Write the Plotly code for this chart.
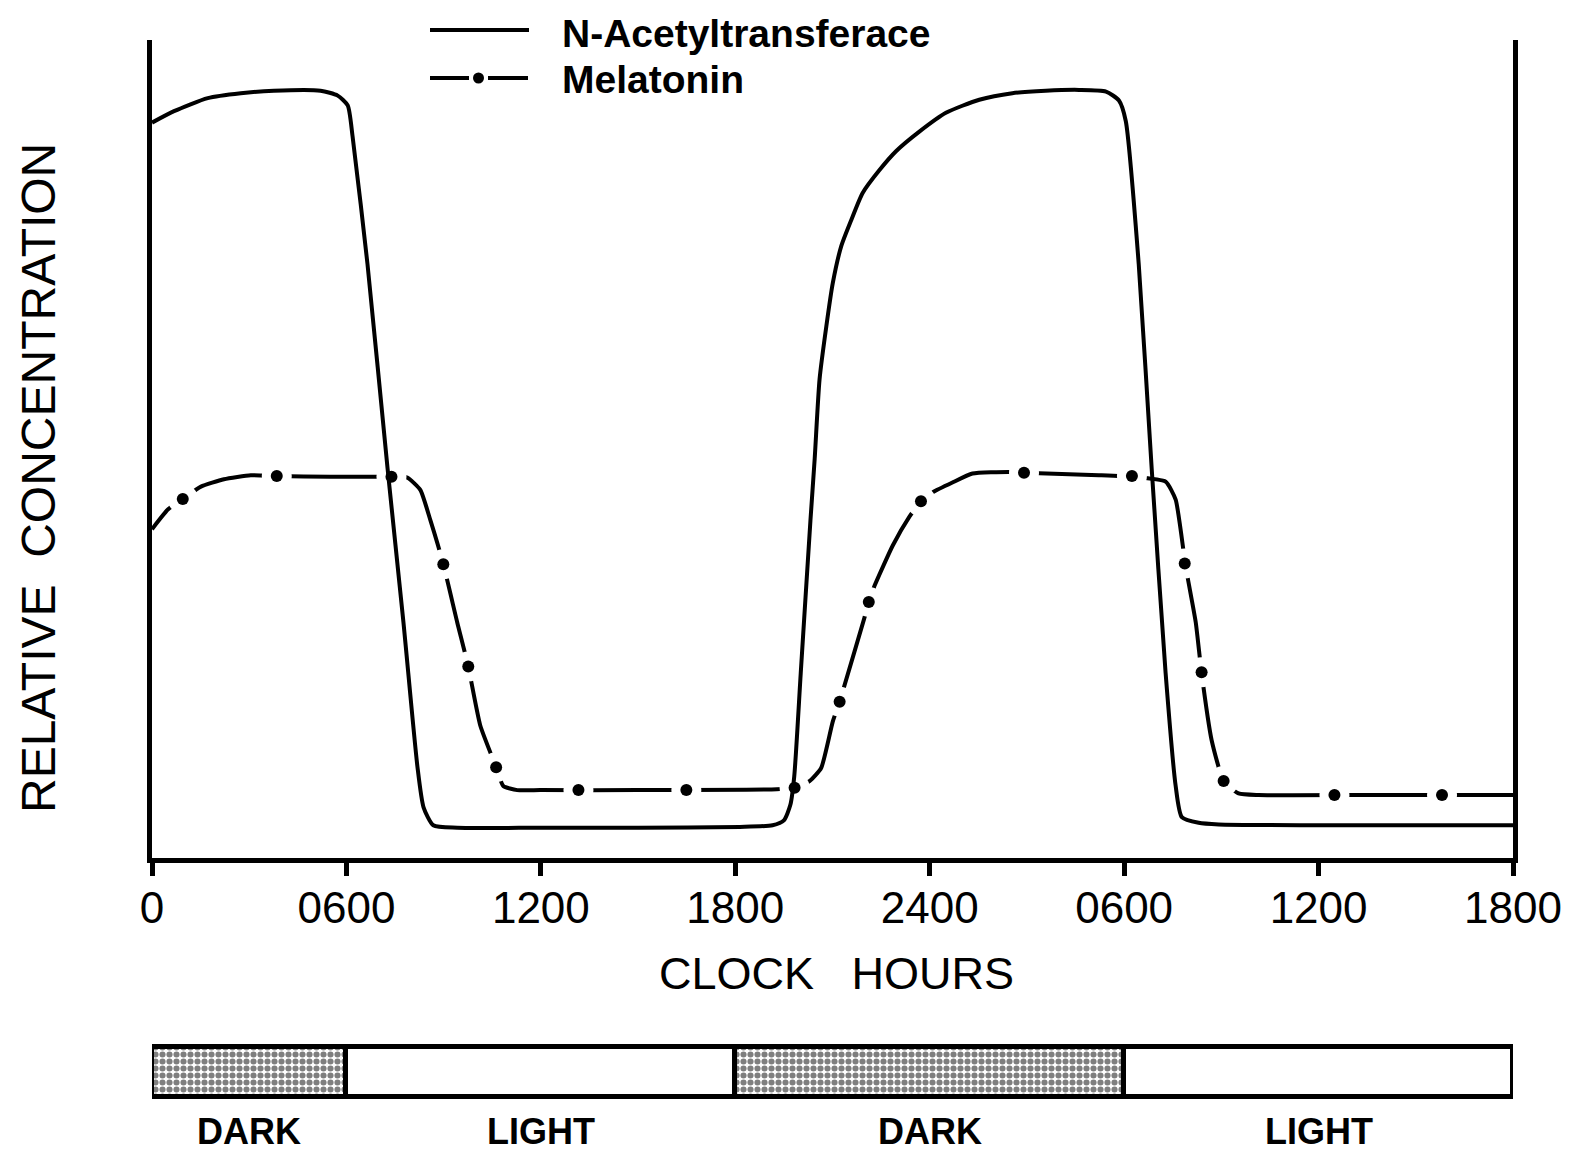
import plotly.graph_objects as go

# ---------------- data ----------------
tick_hours = [0, 6, 12, 18, 24, 30, 36, 42]
tick_labels = ["0", "0600", "1200", "1800", "2400", "0600", "1200", "1800"]

nat_hours = [0.0, 0.68, 1.72, 2.74, 3.76, 5.20, 5.73, 6.04, 6.19, 6.65, 7.27, 7.76,
             8.19, 8.38, 8.68, 9.42, 12.0, 15.0, 18.14, 19.15, 19.50, 19.70, 19.82,
             20.02, 20.32, 20.45, 20.60, 20.81, 21.01, 21.27, 21.58, 21.93, 22.45,
             22.96, 23.68, 24.50, 25.53, 26.55, 27.58, 28.61,
             29.44, 29.84, 30.05, 30.45, 30.85, 31.28, 31.59, 31.78, 32.30, 32.92,
             36.0, 39.0, 42.0]
nat_level = [89.9, 91.3, 92.9, 93.5, 93.8, 93.8, 93.2, 92.0, 88.2, 72.6, 47.6, 28.8,
             11.2, 6.2, 4.0, 3.7, 3.7, 3.7, 3.8, 4.0, 4.6, 6.5, 10.0,
             22.6, 41.3, 48.8, 58.5, 65.0, 70.3, 74.8, 78.0, 81.3, 84.1,
             86.4, 88.8, 91.1, 92.7, 93.5, 93.8, 93.9,
             93.7, 92.6, 90.1, 72.6, 47.6, 22.6, 8.8, 5.0, 4.3, 4.1,
             4.0, 4.0, 4.0]

mel_hours = [0.0, 0.49, 0.95, 1.51, 2.22, 3.05, 3.85, 5.5, 6.84, 7.42, 7.88, 8.28,
             8.59, 8.99, 9.42, 9.76, 10.13, 10.62, 10.84, 11.27, 11.98, 15.0, 19.28,
             19.83, 20.29, 20.65, 21.01, 21.22, 21.37, 21.98, 22.12, 22.30, 22.86,
             23.37, 23.73, 24.09, 24.70, 25.32, 26.45, 26.91, 29.22,
             30.27, 31.28, 31.59, 31.90, 32.21, 32.39,
             32.70, 33.07, 33.53, 34.15, 38.0, 42.0]
mel_level = [40.2, 42.6, 43.9, 45.4, 46.3, 46.8, 46.7, 46.6, 46.6, 46.6, 46.5, 45.0,
             41.3, 35.9, 28.8, 23.4, 16.2, 11.1, 8.8, 8.3, 8.3, 8.3, 8.4,
             8.6, 9.4, 11.0, 16.7, 19.1, 21.1, 29.3, 31.3, 33.3, 38.2,
             41.7, 43.6, 44.7, 45.9, 47.0, 47.2, 47.1, 46.8,
             46.6, 46.0, 43.8, 35.6, 28.8, 22.6,
             14.4, 9.4, 7.9, 7.7, 7.7, 7.7]

mel_dot_hours = [0.95, 3.85, 7.39, 8.99, 9.76, 10.62, 13.16, 16.49, 19.83, 21.22,
                 22.12, 23.73, 26.91, 30.24, 31.87, 32.39, 33.07, 36.49, 39.81]
mel_dot_level = [43.9, 46.7, 46.6, 35.9, 23.4, 11.1, 8.3, 8.3, 8.6, 19.1,
                 31.3, 43.6, 47.1, 46.7, 36.0, 22.7, 9.4, 7.7, 7.7]

period_start = [0, 6, 18, 30]
period_end = [6, 18, 30, 42]
period_label = ["DARK", "LIGHT", "DARK", "LIGHT"]
period_dark = [True, False, True, False]

legend_names = ["N-Acetyltransferace", "Melatonin"]

# ---------------- layout helpers ----------------
# the page body has an 8px margin, so the figure starts at page (8, 8)
OFF = 8
W, H = 1583 - OFF, 1154 - OFF
PLOT_L, PLOT_R = 152, 1513          # page px of the x-axis ends
PLOT_TOP, PLOT_BOT = 0 + OFF, 1100  # page px of the plotting region
ML = PLOT_L - OFF
MR = (W + OFF) - PLOT_R
MT = PLOT_TOP - OFF
MB = (H + OFF) - PLOT_BOT
PW = W - ML - MR
PH = H - MT - MB
FONT = "Liberation Sans, Arial, Helvetica, sans-serif"


def px_x(px):
    return (px - PLOT_L) / PW


def px_y(py):
    return (PLOT_BOT - py) / PH


fig = go.Figure()

# melatonin line (gaps around dots come from white discs)
fig.add_trace(go.Scatter(
    x=mel_hours, y=mel_level, mode="lines",
    line=dict(color="black", width=4, shape="spline", smoothing=0.5),
    hoverinfo="skip", showlegend=False))
fig.add_trace(go.Scatter(
    x=mel_dot_hours, y=mel_dot_level, mode="markers",
    marker=dict(color="white", size=30, line=dict(width=0)),
    hoverinfo="skip", showlegend=False))
# N-acetyltransferase line
fig.add_trace(go.Scatter(
    x=nat_hours, y=nat_level, mode="lines",
    line=dict(color="black", width=4, shape="spline", smoothing=0.6),
    name=legend_names[0], showlegend=False))
# melatonin dots
fig.add_trace(go.Scatter(
    x=mel_dot_hours, y=mel_dot_level, mode="markers",
    marker=dict(color="black", size=12, line=dict(width=0)),
    name=legend_names[1], showlegend=False))

# light / dark bar
durations = [e - s for s, e in zip(period_start, period_end)]
fig.add_trace(go.Bar(
    x=durations, base=period_start, y=[0] * len(durations), orientation="h",
    width=1, xaxis="x2", yaxis="y2",
    marker=dict(color="white",
                line=dict(color="black", width=5),
                pattern=dict(shape=["." if d else "" for d in period_dark],
                             fgcolor="black", bgcolor="white",
                             size=7, solidity=0.6)),
    hoverinfo="skip", showlegend=False))

main_dom = [px_y(858), px_y(40)]
bar_dom = [px_y(1100), px_y(1044)]

fig.update_layout(
    width=W, height=H,
    margin=dict(l=ML, r=MR, t=MT, b=MB, autoexpand=False),
    paper_bgcolor="white", plot_bgcolor="white",
    showlegend=False,
    font=dict(family=FONT, color="black"),
    xaxis=dict(range=[0, 42], domain=[0, 1], anchor="y",
               tickmode="array", tickvals=tick_hours, ticktext=tick_labels,
               ticks="outside", ticklen=13, tickwidth=5, tickcolor="black",
               ticklabelstandoff=-6,
               showline=True, linewidth=5, linecolor="black",
               showgrid=False, zeroline=False,
               tickfont=dict(size=44, family=FONT, color="black")),
    yaxis=dict(range=[0, 100], domain=main_dom, anchor="x",
               showline=True, linewidth=5, linecolor="black", mirror=True,
               showticklabels=False, ticks="", showgrid=False, zeroline=False),
    xaxis2=dict(range=[0, 42], domain=[0, 1], anchor="y2", visible=False),
    yaxis2=dict(range=[-0.55, 0.55], domain=bar_dom, anchor="x2", visible=False),
    bargap=0,
)

annotations = [
    dict(text="RELATIVE\u00a0\u00a0CONCENTRATION", textangle=-90,
         x=px_x(38), y=px_y(478), xref="paper", yref="paper",
         xanchor="center", yanchor="middle", showarrow=False,
         font=dict(size=48, family=FONT, color="black")),
    dict(text="CLOCK\u00a0\u00a0\u00a0HOURS",
         x=px_x(836), y=px_y(973), xref="paper", yref="paper",
         xanchor="center", yanchor="middle", showarrow=False,
         font=dict(size=45, family=FONT, color="black")),
    dict(text="<b>%s</b>" % legend_names[0],
         x=px_x(560), y=px_y(33), xref="paper", yref="paper",
         xanchor="left", yanchor="middle", showarrow=False,
         font=dict(size=39, family=FONT, color="black")),
    dict(text="<b>%s</b>" % legend_names[1],
         x=px_x(560), y=px_y(80), xref="paper", yref="paper",
         xanchor="left", yanchor="middle", showarrow=False,
         font=dict(size=39, family=FONT, color="black")),
]
for s, e, lab in zip(period_start, period_end, period_label):
    annotations.append(dict(
        text="<b>%s</b>" % lab, x=(s + e) / 2, y=px_y(1131),
        xref="x2", yref="paper", xanchor="center", yanchor="middle",
        showarrow=False, font=dict(size=36, family=FONT, color="black")))
fig.update_layout(annotations=annotations)

shapes = [
    dict(type="line", xref="paper", yref="paper",
         x0=px_x(430), x1=px_x(529), y0=px_y(30), y1=px_y(30),
         line=dict(color="black", width=4)),
    dict(type="line", xref="paper", yref="paper",
         x0=px_x(430), x1=px_x(469), y0=px_y(78), y1=px_y(78),
         line=dict(color="black", width=4)),
    dict(type="line", xref="paper", yref="paper",
         x0=px_x(488), x1=px_x(528), y0=px_y(78), y1=px_y(78),
         line=dict(color="black", width=4)),
    dict(type="circle", xref="paper", yref="paper",
         x0=px_x(473), x1=px_x(484), y0=px_y(83.5), y1=px_y(72.5),
         fillcolor="black", line=dict(color="black", width=0)),
]
fig.update_layout(shapes=shapes)

fig.write_html("out.html")
